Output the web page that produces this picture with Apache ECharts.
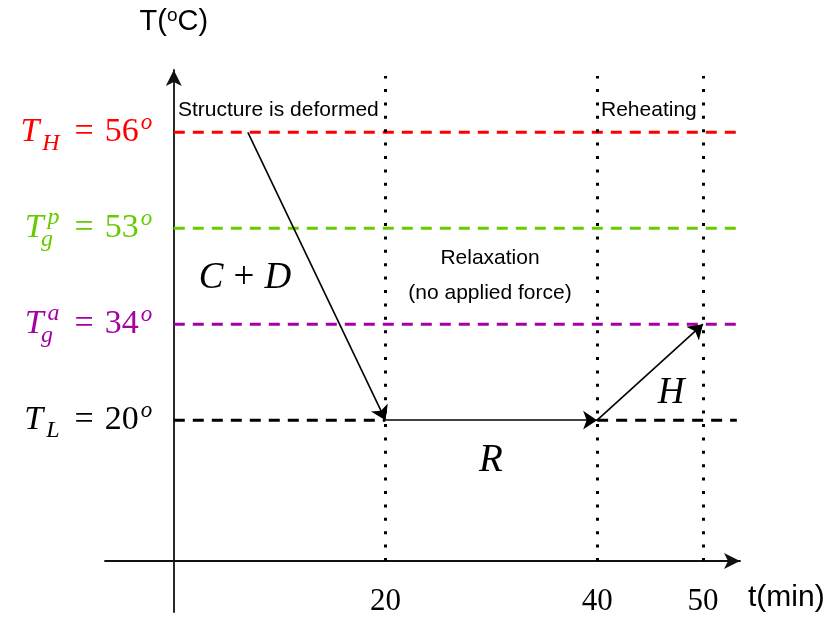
<!DOCTYPE html>
<html>
<head>
<meta charset="utf-8">
<script src="https://cdn.jsdelivr.net/npm/echarts@6/dist/echarts.min.js"></script>
<style>
html,body{margin:0;padding:0;background:#ffffff;}
#chart{width:831px;height:619px;}
</style>
</head>
<body>
<div id="chart"></div>
<script>
// ---------------- data ----------------
const levelSymbols = ['T_L', 'T_g^a', 'T_g^p', 'T_H'];   // temperature levels (schematic, ordinal axis)
const levelTemps = [20, 34, 53, 56];                    // °C
const phaseTimes = [20, 40, 50];                        // min, phase boundaries
const pathTimes = [7, 20, 40, 50];                      // min, process path
const pathTemps = [56, 20, 20, 34];                     // °C, process path
const xTickValues = [20, 40, 50];
const segmentNames = ['C + D', 'R', 'H'];
const phaseNotes = ['Structure is deformed', 'Relaxation', '(no applied force)', 'Reheating'];

// ---------------- style / layout ----------------
const levelColors = ['#000000', '#a400a4', '#66cc00', '#ff0000'];
const levelLineEnd = 53.2;
const SERIF = '"Liberation Serif","DejaVu Serif",serif';
const SANS = '"Liberation Sans",Arial,"DejaVu Sans",sans-serif';

const levelIndex = t => levelTemps.indexOf(t);

function levelText(sym, temp) {
  const m = sym.match(/^(\w)(?:_(\w))?(?:\^(\w))?$/);
  let s = '{b|' + m[1] + '}';
  if (m[2] && m[3]) s += '{subz|' + m[2] + '}{sup|' + m[3] + '}';
  else if (m[2]) s += '{sub|' + m[2] + '}';
  s += '{eq|=}{num|' + temp + '}{deg|o}';
  return s;
}
function levelRich(color) {
  const lh = 46;
  return {
    b:   {fontFamily: SERIF, fontStyle: 'italic', fontSize: 34, color, verticalAlign: 'middle', lineHeight: lh, padding: [0, 3, 0, 0]},
    sub: {fontFamily: SERIF, fontStyle: 'italic', fontSize: 24, color, verticalAlign: 'bottom', lineHeight: lh, padding: [0, 4, 0, 0]},
    subz:{fontFamily: SERIF, fontStyle: 'italic', fontSize: 24, color, verticalAlign: 'bottom', lineHeight: lh, width: 1, align: 'left'},
    sup: {fontFamily: SERIF, fontStyle: 'italic', fontSize: 24, color, verticalAlign: 'top', lineHeight: lh, padding: [0, 4, 0, 0]},
    eq:  {fontFamily: SERIF, fontSize: 34, color, verticalAlign: 'middle', lineHeight: lh, padding: [0, 11, 0, 11]},
    num: {fontFamily: SERIF, fontSize: 34, color, verticalAlign: 'middle', lineHeight: lh},
    deg: {fontFamily: SERIF, fontStyle: 'italic', fontSize: 23, color, verticalAlign: 'top', lineHeight: lh, padding: [2, 0, 0, 2]}
  };
}

// dashed level lines, broken where the process path runs along the level
const levelSeries = [];
levelTemps.forEach((t, i) => {
  const breaks = [];
  for (let k = 0; k < pathTimes.length - 1; k++) {
    if (pathTemps[k] === t && pathTemps[k + 1] === t) breaks.push([pathTimes[k], pathTimes[k + 1]]);
  }
  let start = 0;
  const segs = [];
  breaks.forEach(b => { segs.push([start, b[0]]); start = b[1]; });
  segs.push([start, levelLineEnd]);
  segs.forEach(sg => {
    levelSeries.push({
      type: 'line',
      name: levelSymbols[i],
      data: [[sg[0], i], [sg[1], i]],
      symbol: 'none',
      silent: true,
      z: 2,
      lineStyle: {color: levelColors[i], width: 3, type: [11, 8]}
    });
  });
});

const labelSeries = {
  type: 'scatter',
  silent: true,
  symbolSize: 1,
  z: 3,
  itemStyle: {color: 'rgba(0,0,0,0)', opacity: 1},
  label: {show: true, position: 'left', distance: 21},
  data: levelTemps.map((t, i) => ({
    value: [0, i],
    label: {formatter: levelText(levelSymbols[i], t), rich: levelRich(levelColors[i])}
  }))
};

const phaseSeries = {
  type: 'lines',
  coordinateSystem: 'cartesian2d',
  yAxisIndex: 1,
  silent: true,
  z: 4,
  symbol: ['none', 'none'],
  lineStyle: {color: '#000', width: 3, type: [3, 10.4], opacity: 1, cap: 'butt'},
  data: phaseTimes.map(t => ({coords: [[t, 0], [t, 485]]}))
};

const pathSeries = {
  type: 'lines',
  coordinateSystem: 'cartesian2d',
  silent: true,
  z: 6,
  symbol: ['none', 'arrow'],
  symbolSize: 14,
  lineStyle: {color: '#000', width: 1.6, opacity: 1},
  data: pathTimes.slice(0, -1).map((t, k) => ({
    coords: [[t, levelIndex(pathTemps[k])], [pathTimes[k + 1], levelIndex(pathTemps[k + 1])]]
  }))
};

const chart = echarts.init(document.getElementById('chart'), null, {renderer: 'canvas'});
chart.setOption({
  animation: false,
  backgroundColor: '#ffffff',
  grid: {left: 105, right: 91, top: 70, bottom: 7, containLabel: false, outerBoundsMode: 'none'},
  xAxis: {
    type: 'value',
    min: -6.5,
    max: 53.5,
    name: 't(min)',
    nameLocation: 'end',
    nameGap: 8,
    nameTextStyle: {fontFamily: SANS, fontSize: 30, color: '#000', align: 'left', verticalAlign: 'top', padding: [22, 0, 0, 0]},
    axisLine: {
      show: true, onZero: true, onZeroAxisIndex: 1,
      symbol: ['none', 'arrow'], symbolSize: [12, 16],
      lineStyle: {color: '#111', width: 1.8}
    },
    axisTick: {show: false},
    splitLine: {show: false},
    axisLabel: {
      customValues: xTickValues,
      fontFamily: SERIF, fontSize: 31, color: '#000', margin: -26
    }
  },
  yAxis: [{
    type: 'value',
    min: -2,
    max: 3.65,
    name: 'T({s|o}C)',
    nameLocation: 'end',
    nameGap: 32,
    nameTextStyle: {
      fontFamily: SANS, fontSize: 29, color: '#000', align: 'center', verticalAlign: 'bottom', lineHeight: 32,
      rich: {s: {fontFamily: SANS, fontSize: 19, color: '#000', verticalAlign: 'top', lineHeight: 32}}
    },
    axisLine: {
      show: true, onZero: true,
      symbol: ['none', 'arrow'], symbolSize: [12, 16],
      lineStyle: {color: '#111', width: 1.8}
    },
    axisTick: {show: false},
    axisLabel: {show: false},
    splitLine: {show: false}
  }, {
    type: 'value',
    show: false,
    min: -51,
    max: 491,
    axisLine: {show: false},
    axisTick: {show: false},
    axisLabel: {show: false},
    splitLine: {show: false}
  }],
  series: [...levelSeries, labelSeries, phaseSeries, pathSeries],
  graphic: [
    {type: 'text', x: 178, y: 110, z: 10, style: {text: phaseNotes[0], font: '21px ' + SANS, fill: '#000', align: 'left', verticalAlign: 'middle'}},
    {type: 'text', x: 490, y: 258, z: 10, style: {text: phaseNotes[1], font: '21px ' + SANS, fill: '#000', align: 'center', verticalAlign: 'middle'}},
    {type: 'text', x: 490, y: 293, z: 10, style: {text: phaseNotes[2], font: '21px ' + SANS, fill: '#000', align: 'center', verticalAlign: 'middle'}},
    {type: 'text', x: 601, y: 110, z: 10, style: {text: phaseNotes[3], font: '21px ' + SANS, fill: '#000', align: 'left', verticalAlign: 'middle'}},
    {type: 'text', x: 245, y: 278, z: 10, style: {
      text: segmentNames[0].replace(/ \+ /, '{p|+}').replace(/([A-Z])/g, '{i|$1}'),
      font: '37px ' + SERIF, fill: '#000', align: 'center', verticalAlign: 'middle',
      rich: {
        i: {fontFamily: SERIF, fontStyle: 'italic', fontSize: 37, fill: '#000'},
        p: {fontFamily: SERIF, fontSize: 37, fill: '#000', padding: [0, 10, 0, 10]}
      }
    }},
    {type: 'text', x: 491, y: 461, z: 10, style: {text: segmentNames[1], font: 'italic 39px ' + SERIF, fill: '#000', align: 'center', verticalAlign: 'middle'}},
    {type: 'text', x: 671, y: 393, z: 10, style: {text: segmentNames[2], font: 'italic 37px ' + SERIF, fill: '#000', align: 'center', verticalAlign: 'middle'}}
  ]
});
</script>
</body>
</html>
